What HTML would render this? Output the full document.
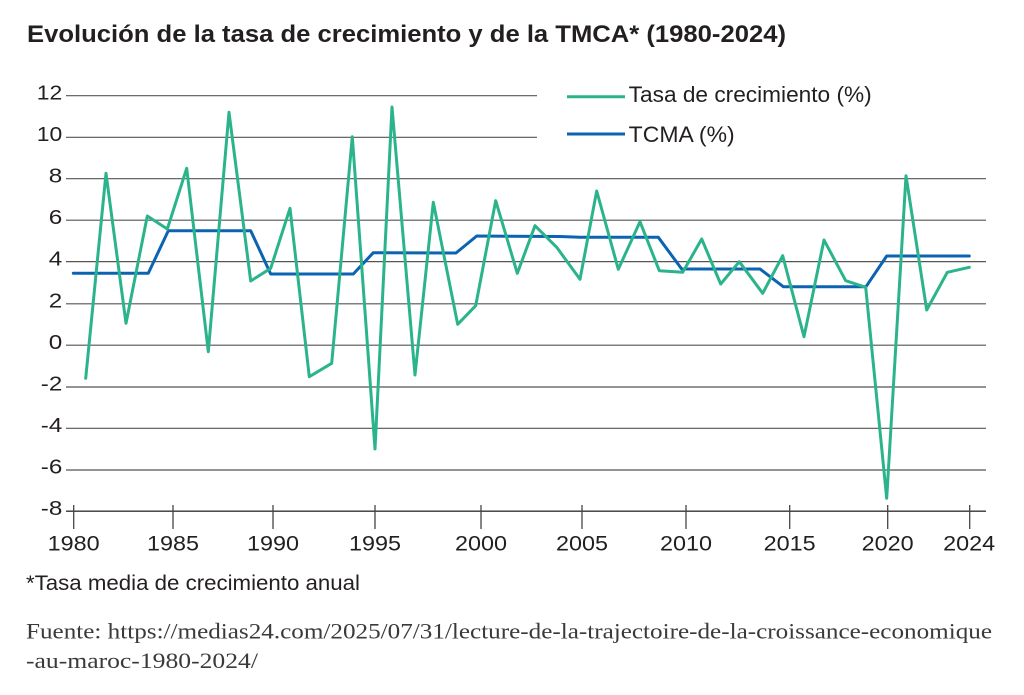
<!DOCTYPE html>
<html><head><meta charset="utf-8"><style>
html,body{margin:0;padding:0;background:#fff;}
svg{display:block;}
</style></head><body>
<svg width="1024" height="695" viewBox="0 0 1024 695" xmlns="http://www.w3.org/2000/svg">
<rect width="1024" height="695" fill="#fff"/>
<text x="27" y="42" font-family="Liberation Sans, Arial, sans-serif" font-size="24" font-weight="bold" fill="#231f20" textLength="759" lengthAdjust="spacingAndGlyphs">Evolución de la tasa de crecimiento y de la TMCA* (1980-2024)</text>

<g stroke="#555" stroke-width="1.2">
<line x1="66" x2="537" y1="95.7" y2="95.7"/>
<line x1="66" x2="537" y1="137.3" y2="137.3"/>
<line x1="66" x2="986" y1="178.7" y2="178.7"/>
<line x1="66" x2="986" y1="220.2" y2="220.2"/>
<line x1="66" x2="986" y1="261.6" y2="261.6"/>
<line x1="66" x2="986" y1="303.8" y2="303.8"/>
<line x1="66" x2="986" y1="345.2" y2="345.2"/>
<line x1="66" x2="986" y1="387" y2="387"/>
<line x1="66" x2="986" y1="428.3" y2="428.3"/>
<line x1="66" x2="986" y1="470" y2="470"/>
</g>
<line x1="66" x2="986" y1="511.2" y2="511.2" stroke="#333" stroke-width="1.3"/>
<g stroke="#444" stroke-width="1.3">
<line x1="73.7" x2="73.7" y1="505" y2="529"/>
<line x1="173" x2="173" y1="505" y2="529"/>
<line x1="273" x2="273" y1="505" y2="529"/>
<line x1="375" x2="375" y1="505" y2="529"/>
<line x1="481" x2="481" y1="505" y2="529"/>
<line x1="582" x2="582" y1="505" y2="529"/>
<line x1="686" x2="686" y1="505" y2="529"/>
<line x1="789.7" x2="789.7" y1="505" y2="529"/>
<line x1="887.7" x2="887.7" y1="505" y2="529"/>
<line x1="969.7" x2="969.7" y1="505" y2="529"/>
</g>

<g font-family="Liberation Sans, Arial, sans-serif" font-size="20" fill="#231f20" text-anchor="end">
<text x="62.3" y="99.4" textLength="25.5" lengthAdjust="spacingAndGlyphs">12</text>
<text x="62.3" y="141" textLength="25.5" lengthAdjust="spacingAndGlyphs">10</text>
<text x="62.3" y="182.4" textLength="13.5" lengthAdjust="spacingAndGlyphs">8</text>
<text x="62.3" y="223.9" textLength="13.5" lengthAdjust="spacingAndGlyphs">6</text>
<text x="62.3" y="265.3" textLength="13.5" lengthAdjust="spacingAndGlyphs">4</text>
<text x="62.3" y="307.5" textLength="13.5" lengthAdjust="spacingAndGlyphs">2</text>
<text x="62.3" y="348.9" textLength="13.5" lengthAdjust="spacingAndGlyphs">0</text>
<text x="62.3" y="390.7" textLength="21.5" lengthAdjust="spacingAndGlyphs">-2</text>
<text x="62.3" y="432" textLength="21.5" lengthAdjust="spacingAndGlyphs">-4</text>
<text x="62.3" y="473.7" textLength="21.5" lengthAdjust="spacingAndGlyphs">-6</text>
<text x="62.3" y="514.9" textLength="21.5" lengthAdjust="spacingAndGlyphs">-8</text>
</g>

<g font-family="Liberation Sans, Arial, sans-serif" font-size="21" fill="#231f20" text-anchor="middle">
<text x="73.7" y="550.5" textLength="52" lengthAdjust="spacingAndGlyphs">1980</text>
<text x="173" y="550.5" textLength="52" lengthAdjust="spacingAndGlyphs">1985</text>
<text x="273" y="550.5" textLength="52" lengthAdjust="spacingAndGlyphs">1990</text>
<text x="375" y="550.5" textLength="52" lengthAdjust="spacingAndGlyphs">1995</text>
<text x="481" y="550.5" textLength="52" lengthAdjust="spacingAndGlyphs">2000</text>
<text x="582" y="550.5" textLength="52" lengthAdjust="spacingAndGlyphs">2005</text>
<text x="686" y="550.5" textLength="52" lengthAdjust="spacingAndGlyphs">2010</text>
<text x="789.7" y="550.5" textLength="52" lengthAdjust="spacingAndGlyphs">2015</text>
<text x="887.7" y="550.5" textLength="52" lengthAdjust="spacingAndGlyphs">2020</text>
<text x="969.2" y="550.5" textLength="52" lengthAdjust="spacingAndGlyphs">2024</text>
</g>

<polyline fill="none" stroke="#0b63b1" stroke-width="3" stroke-linejoin="round" stroke-linecap="round" points="73.3,273.3 148.3,273.3 168.3,230.7 250.7,230.7 270.7,274 353.3,274 373.3,252.7 456,253 476.7,236 560,236.5 580,237.3 658.3,237.3 681.7,269 760,269 783.3,286.7 866,286.7 886.7,256 969.3,256"/>

<polyline fill="none" stroke="#2bb48b" stroke-width="3" stroke-linejoin="round" stroke-linecap="round" points="85.7,378.3 106,173.3 126,323.3 147.3,216 167.3,229 186.7,168.3 208.3,351.7 229,112.3 250.7,281 270.7,268.3 290,208.3 309.3,376.7 331.7,363.3 352.3,136.7 375,449 392,107 415,375 433.3,202.3 457.7,324.3 475.7,305.7 495.7,200.7 517.3,273.3 535,225.7 556.7,247.3 580,279.3 596.7,191 618.3,269.3 640,221.7 659.3,270.7 682.7,272.3 701.7,239 720.7,284 739.3,261.7 762.7,293.3 782.7,255.7 804,336.7 824,240 845.7,280.7 865.7,287.3 886.7,498.3 906,175.7 926.7,310 947.3,272.3 969.3,267.3"/>

<line x1="567" x2="625" y1="96.7" y2="96.7" stroke="#2bb48b" stroke-width="3"/>
<line x1="567" x2="625" y1="134" y2="134" stroke="#0b63b1" stroke-width="3"/>
<g font-family="Liberation Sans, Arial, sans-serif" font-size="22.5" fill="#231f20">
<text x="628.7" y="102" textLength="243" lengthAdjust="spacingAndGlyphs">Tasa de crecimiento (%)</text>
<text x="628.7" y="142" textLength="106" lengthAdjust="spacingAndGlyphs">TCMA (%)</text>
</g>

<text x="26" y="590" font-family="Liberation Sans, Arial, sans-serif" font-size="21" fill="#231f20" textLength="334" lengthAdjust="spacingAndGlyphs">*Tasa media de crecimiento anual</text>

<g font-family="Liberation Serif, Times New Roman, serif" font-size="22" fill="#3a3a3a">
<text x="26" y="638.5" textLength="966" lengthAdjust="spacingAndGlyphs">Fuente: https://medias24.com/2025/07/31/lecture-de-la-trajectoire-de-la-croissance-economique</text>
<text x="26" y="668" textLength="232" lengthAdjust="spacingAndGlyphs">-au-maroc-1980-2024/</text>
</g>
</svg>
</body></html>
